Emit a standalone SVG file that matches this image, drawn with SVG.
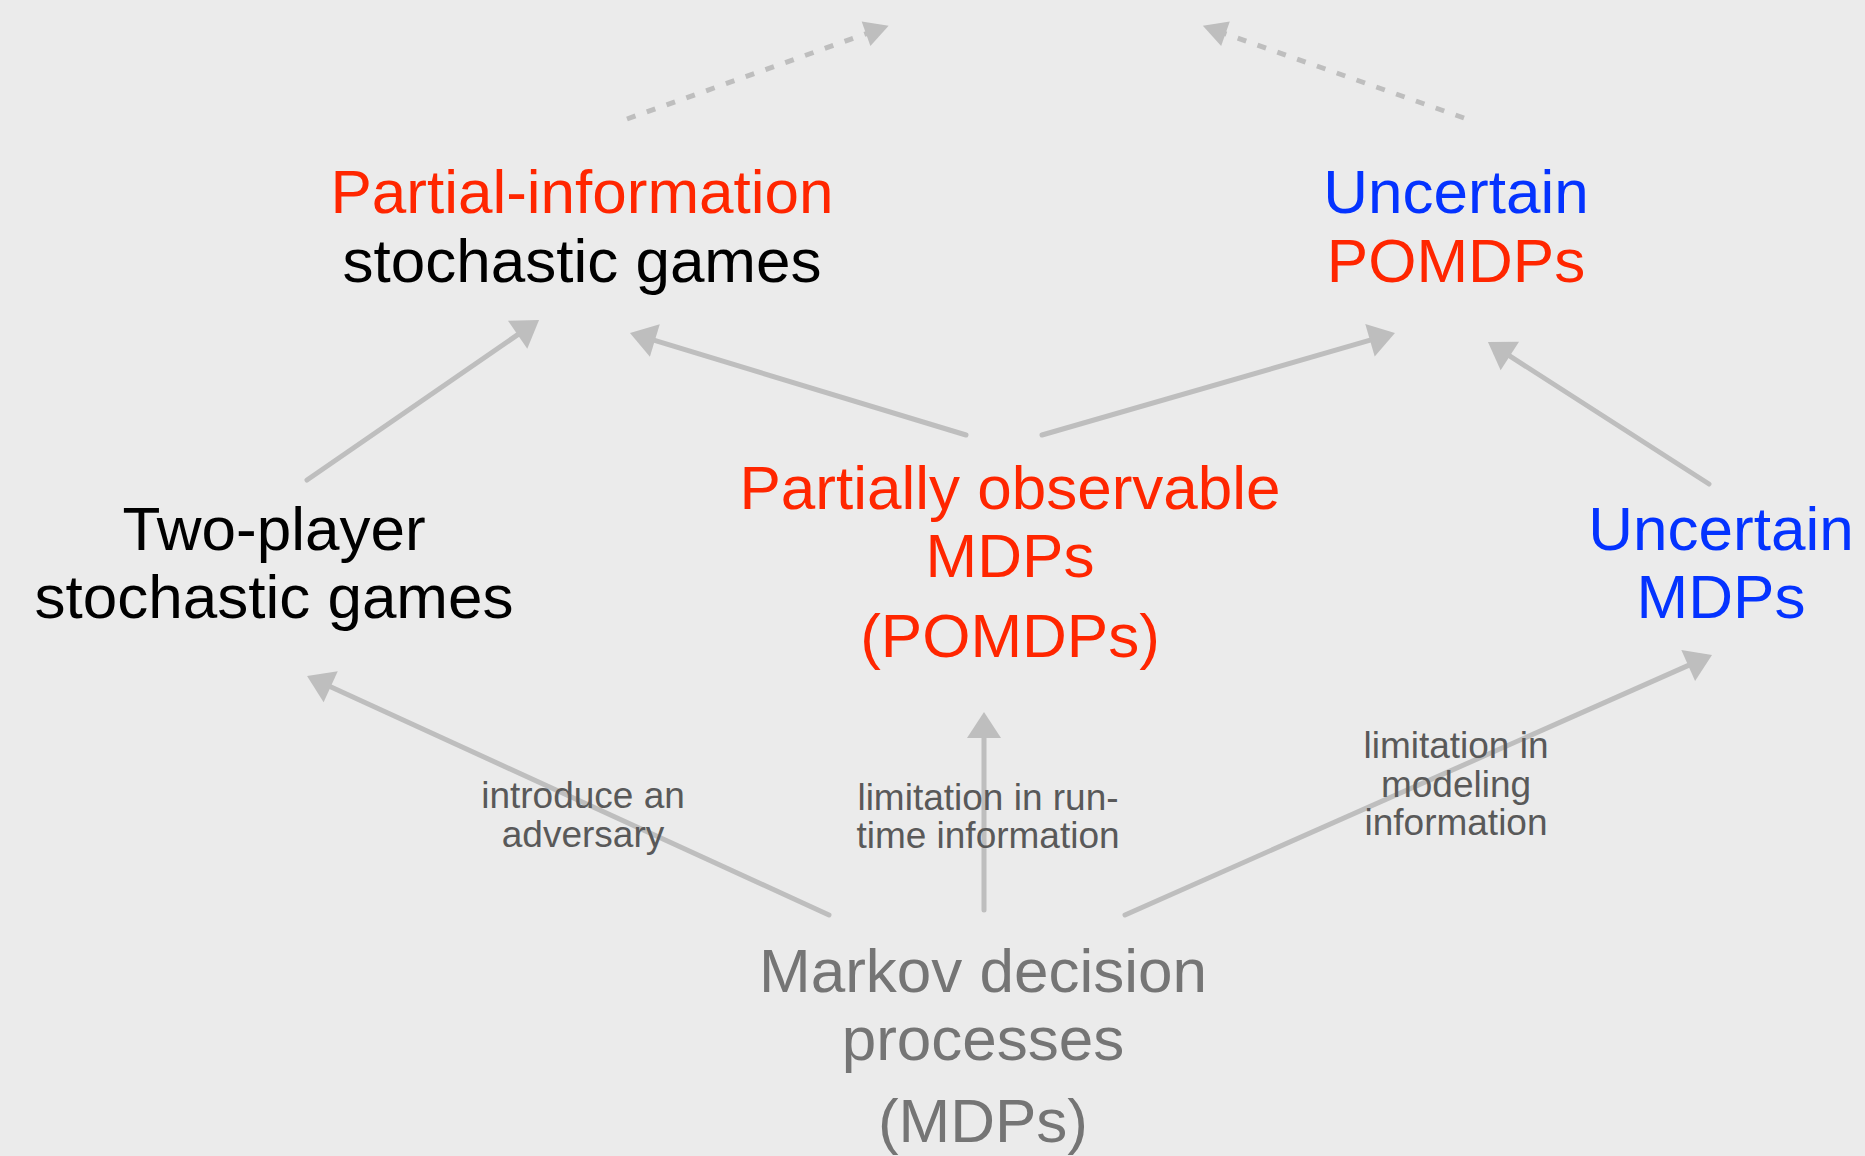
<svg xmlns="http://www.w3.org/2000/svg" width="1865" height="1156" viewBox="0 0 1865 1156">
  <style>
    .node { font-family: "Liberation Sans", Arial, Helvetica, sans-serif; font-size: 62px; text-anchor: middle; }
    .red { fill: #ff2600; }
    .blue { fill: #0433ff; }
    .black { fill: #000000; }
    .grey { fill: #757575; }
    .label { font-family: "Liberation Sans", Arial, Helvetica, sans-serif; font-size: 37px; text-anchor: middle; fill: #595959; }
    .edge { stroke: #bebebe; stroke-width: 5; fill: none; stroke-linecap: round; }
    .dashed { stroke: #bebebe; stroke-width: 5; fill: none; stroke-dasharray: 9 12; }
  </style>
  <defs>
    <marker id="head" markerUnits="userSpaceOnUse" markerWidth="40" markerHeight="40" viewBox="0 -20 30 40" refX="20" refY="0" orient="auto">
      <path d="M0,-17 L26,0 L0,17 z" fill="#bebebe"/>
    </marker>
    <marker id="headSmall" markerUnits="userSpaceOnUse" markerWidth="30" markerHeight="30" viewBox="0 -15 26 30" refX="18" refY="0" orient="auto">
      <path d="M0,-13 L24,0 L0,13 z" fill="#bebebe"/>
    </marker>
  </defs>

  <rect width="1865" height="1156" fill="#ebebeb"/>

  <!-- connectors -->
  <g id="connectors">
    <line class="dashed" x1="627" y1="119" x2="883" y2="27.7" marker-end="url(#headSmall)"/>
    <line class="dashed" x1="1464" y1="118" x2="1208.5" y2="27.7" marker-end="url(#headSmall)"/>
    <line class="edge" x1="307" y1="480" x2="534.1" y2="323.4" marker-end="url(#head)"/>
    <line class="edge" x1="966" y1="435" x2="635.7" y2="334.7" marker-end="url(#head)"/>
    <line class="edge" x1="1042" y1="435" x2="1389.2" y2="334.7" marker-end="url(#head)"/>
    <line class="edge" x1="1709" y1="484" x2="1493" y2="345.2" marker-end="url(#head)"/>
    <line class="edge" x1="829" y1="915" x2="312.5" y2="678.5" marker-end="url(#head)"/>
    <line class="edge" x1="984" y1="910" x2="984" y2="718" marker-end="url(#head)"/>
    <line class="edge" x1="1125" y1="915" x2="1706.5" y2="657.4" marker-end="url(#head)"/>

    <text class="label" x="583" y="808">introduce an</text>
    <text class="label" x="583" y="847">adversary</text>
    <text class="label" x="988" y="810">limitation in run-</text>
    <text class="label" x="988" y="848">time information</text>
    <text class="label" x="1456" y="758">limitation in</text>
    <text class="label" x="1456" y="797">modeling</text>
    <text class="label" x="1456" y="835">information</text>
  </g>

  <!-- nodes -->
  <g id="partial-info-games">
    <text class="node red" x="582" y="213">Partial-information</text>
    <text class="node black" x="582" y="282">stochastic games</text>
  </g>
  <g id="uncertain-pomdps">
    <text class="node blue" x="1456" y="213">Uncertain</text>
    <text class="node red" x="1456" y="282">POMDPs</text>
  </g>
  <g id="two-player-games">
    <text class="node black" x="274" y="550">Two-player</text>
    <text class="node black" x="274" y="618">stochastic games</text>
  </g>
  <g id="pomdps">
    <text class="node red" x="1010" y="509">Partially observable</text>
    <text class="node red" x="1010" y="577">MDPs</text>
    <text class="node red" x="1010" y="657">(POMDPs)</text>
  </g>
  <g id="uncertain-mdps">
    <text class="node blue" x="1721" y="550">Uncertain</text>
    <text class="node blue" x="1721" y="618">MDPs</text>
  </g>
  <g id="mdps">
    <text class="node grey" x="983" y="992">Markov decision</text>
    <text class="node grey" x="983" y="1060">processes</text>
    <text class="node grey" x="983" y="1142">(MDPs)</text>
  </g>
</svg>
